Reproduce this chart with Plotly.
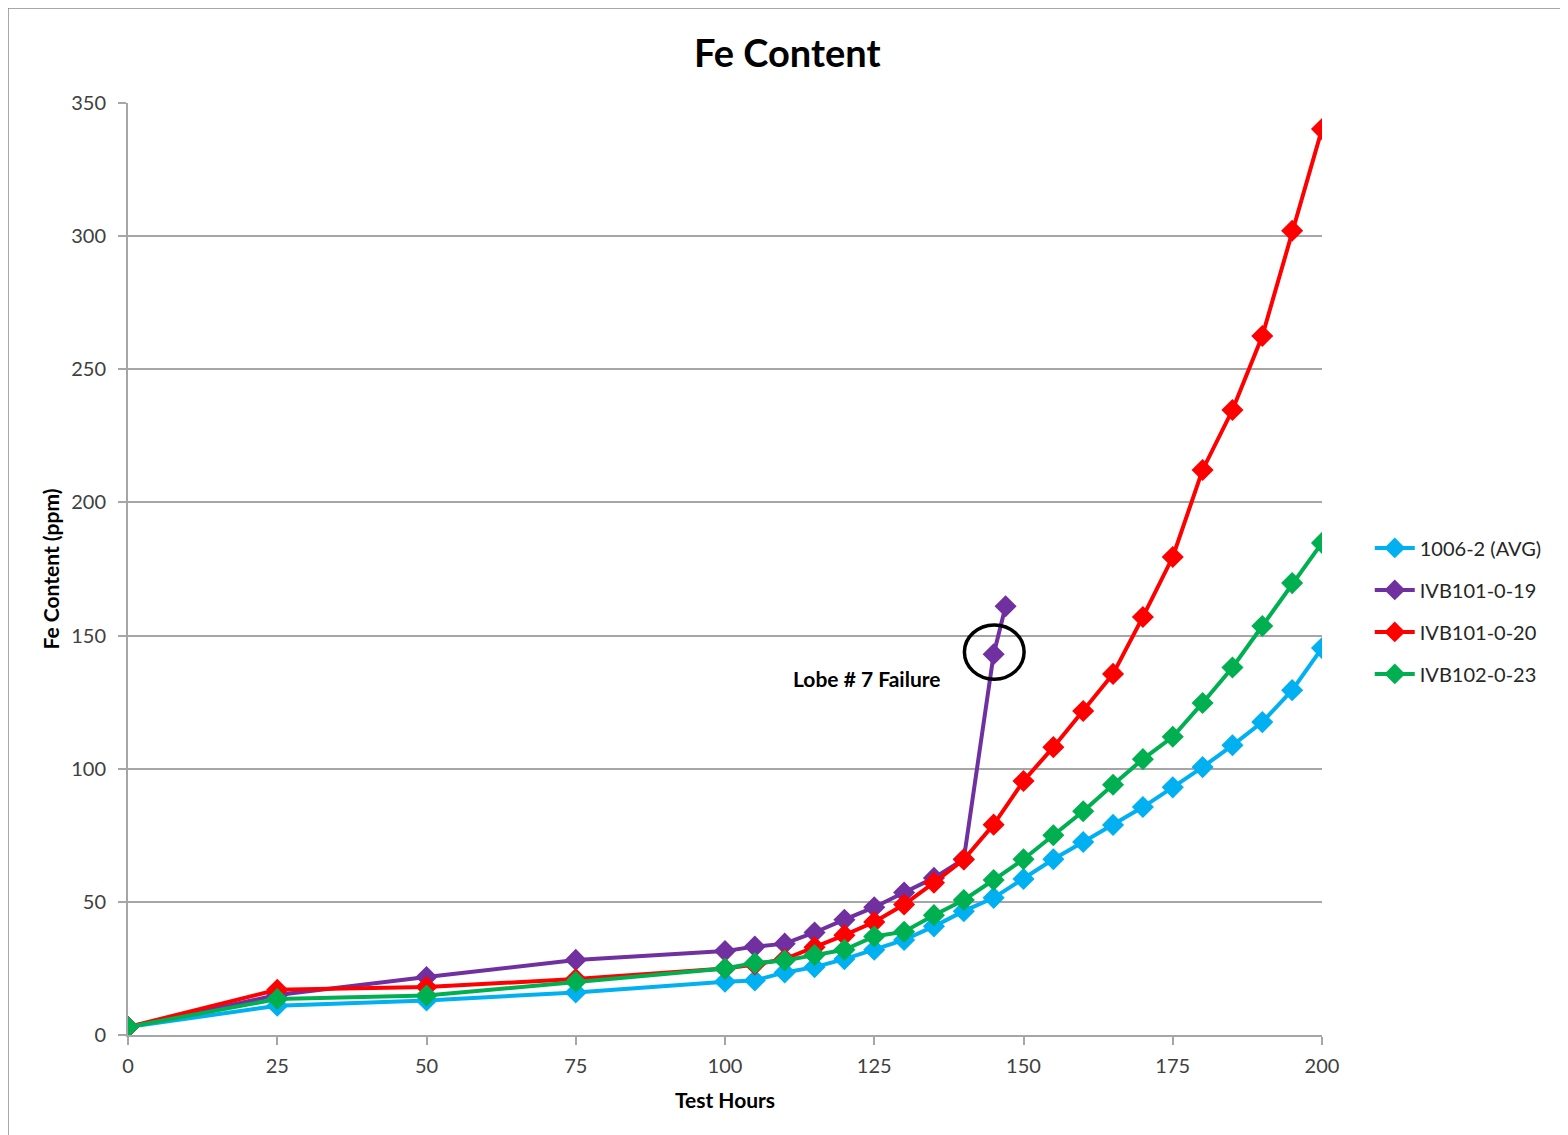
import plotly.graph_objects as go

hours = [0, 25, 50, 75, 100, 105, 110, 115, 120, 125, 130, 135, 140, 145, 150,
         155, 160, 165, 170, 175, 180, 185, 190, 195, 200]
avg_1006 = [3, 11, 13, 16, 20, 20.5, 23.5, 25.5, 28.5, 32, 35.7, 40.8, 46.5, 51.5, 58.6,
            66, 72.5, 78.9, 85.6, 93, 100.6, 108.8, 117.5, 129.5, 145.3]
ivb102_23 = [3, 13.5, 14.8, 20, 25, 27, 28, 30, 32, 37, 38.8, 45, 50.7, 58.2, 66,
             75, 84, 94, 103.6, 112, 124.7, 138, 153.6, 169.7, 184.8]
ivb101_20 = [3, 17, 18, 21, 25, 26.5, 28.5, 33, 37.5, 42.4, 49, 57.2, 65.9, 79, 95.4,
             108.1, 121.7, 135.6, 157, 179.5, 212.2, 234.7, 262.5, 302, 340.2]
hours_19 = [0, 25, 50, 75, 100, 105, 110, 115, 120, 125, 130, 135, 140, 145, 147]
ivb101_19 = [3, 15, 21.8, 28.2, 31.5, 33.2, 34.3, 38.5, 43.3, 48, 53.5, 59, 66, 143, 161]

series = [
    ("1006-2 (AVG)", hours, avg_1006, "#00B0F0"),
    ("IVB101-0-19", hours_19, ivb101_19, "#7030A0"),
    ("IVB101-0-20", hours, ivb101_20, "#FF0000"),
    ("IVB102-0-23", hours, ivb102_23, "#00B050"),
]

FONT = "Lato, 'Open Sans', sans-serif"
fig = go.Figure()
for name, xs, ys, col in series:
    fig.add_trace(go.Scatter(
        x=xs, y=ys, name=name, mode="lines+markers",
        line=dict(color=col, width=4),
        marker=dict(symbol="diamond", size=17, color=col),
        legendgroup=name,
    ))

fig.update_layout(
    width=1568, height=1135,
    margin=dict(l=120, r=254, t=95, b=108),
    paper_bgcolor="white", plot_bgcolor="white",
    font=dict(family=FONT, color="#404040", size=20),
    title=dict(text="<b>Fe Content</b>", x=0.497, xanchor="center", y=0.96, yanchor="middle",
               font=dict(size=38, color="black", family=FONT)),
    showlegend=True,
    legend=dict(x=1.04, xanchor="left", y=0.455, yanchor="middle",
                font=dict(size=20, color="#262626", family=FONT),
                traceorder="grouped", tracegroupgap=13, itemwidth=40,
                bgcolor="rgba(0,0,0,0)"),
)
fig.update_xaxes(
    range=[0, 200], tickvals=[0, 25, 50, 75, 100, 125, 150, 175, 200],
    showgrid=False, showline=True, linecolor="#A6A6A6", linewidth=2,
    ticks="outside", ticklen=8, tickcolor="#A6A6A6", tickwidth=2,
    tickfont=dict(size=20, color="#404040"), ticklabelstandoff=4,
    title=dict(text="<b>Test Hours</b>", font=dict(size=21, color="black"), standoff=17),
    zeroline=False,
)
fig.update_yaxes(
    range=[0, 350], tickvals=[0, 50, 100, 150, 200, 250, 300, 350],
    showgrid=True, gridcolor="#A6A6A6", gridwidth=1.5,
    showline=True, linecolor="#A6A6A6", linewidth=2,
    ticks="outside", ticklen=8, tickcolor="#A6A6A6", tickwidth=2,
    tickfont=dict(size=20, color="#404040"), ticklabelstandoff=8,
    title=dict(text="<b>Fe Content (ppm)</b>", font=dict(size=21, color="black"), standoff=6),
    zeroline=False,
)

fig.add_shape(type="circle", xref="x", yref="y",
              x0=145 - 4.9, x1=145 + 5.1, y0=143.8 - 10.2, y1=143.8 + 10.2,
              line=dict(color="black", width=3.5))
fig.add_annotation(x=123.8, y=134, xref="x", yref="y", showarrow=False,
                   text="<b>Lobe # 7 Failure</b>", xanchor="center", yanchor="middle",
                   font=dict(size=21, color="black", family=FONT))

fig.add_shape(type="rect", xref="paper", yref="paper",
              x0=-0.1005, x1=1.3, y0=-0.3, y1=1.102,
              line=dict(color="#8C8C8C", width=1.5), layer="below")

fig.write_html("out.html")
